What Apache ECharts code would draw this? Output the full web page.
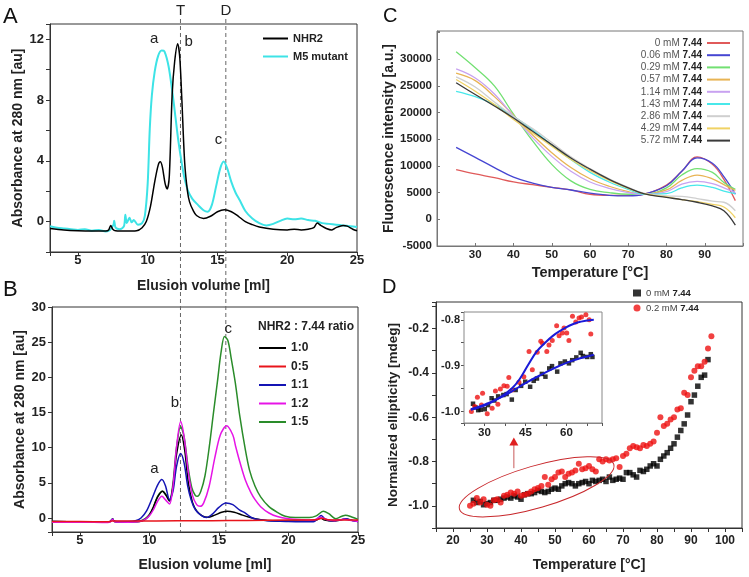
<!DOCTYPE html>
<html>
<head>
<meta charset="utf-8">
<script src="https://cdn.jsdelivr.net/npm/echarts@6/dist/echarts.min.js"></script>
<style>
  html, body { margin: 0; padding: 0; background: #fff; }
  #chart { width: 749px; height: 577px; }
</style>
</head>
<body>
<div id="chart"></div>
<script>
const FONT = '"Liberation Sans", Arial, sans-serif';

// ---- panel A : elution profiles [ml, au]
const nhr2A = [[3,-0.45],[4,-0.55],[5,-0.6],[6,-0.62],[7,-0.62],[7.2,-0.55],[7.35,-0.25],[7.5,-0.5],[7.7,-0.6],[8.5,-0.62],[9.2,-0.6],[9.6,-0.4],[9.9,0],[10.2,1.0],[10.5,2.6],[10.75,3.7],[10.9,3.93],[11.05,3.6],[11.25,2.5],[11.4,2.15],[11.55,3.0],[11.75,8.3],[11.93,10.5],[12.15,11.7],[12.3,10.8],[12.45,8.0],[12.65,3.9],[12.85,2.0],[13.0,1.3],[13.25,0.75],[13.5,0.4],[14.0,0.2],[14.5,0.35],[15.0,0.65],[15.5,0.78],[16.0,0.65],[16.5,0.35],[17.0,0.0],[17.5,-0.2],[18,-0.35],[19,-0.5],[20,-0.55],[20.5,-0.5],[21,-0.55],[21.5,-0.5],[21.9,-0.4],[22.15,-0.1],[22.4,-0.25],[22.8,-0.45],[23.2,-0.55],[23.5,-0.4],[24.0,-0.25],[24.3,-0.3],[24.7,-0.5],[25,-0.6]];
const m5A = [[3,-0.3],[3.5,-0.4],[4,-0.45],[4.5,-0.5],[5,-0.55],[5.5,-0.5],[6,-0.6],[6.5,-0.55],[7,-0.65],[7.3,-0.55],[7.55,-0.2],[7.6,0.05],[7.7,-0.4],[8.0,-0.5],[8.3,-0.3],[8.4,0.45],[8.5,-0.1],[8.7,0.25],[8.85,-0.05],[9.0,0.1],[9.3,-0.2],[9.6,-0.1],[9.8,0.4],[10.0,2.5],[10.15,6.1],[10.3,8.3],[10.5,9.85],[10.75,10.9],[11.0,11.25],[11.2,11.2],[11.5,10.2],[11.8,8.3],[12.0,6.8],[12.2,5.3],[12.45,3.8],[12.65,2.8],[12.9,2.0],[13.2,1.5],[13.6,1.1],[14.0,0.75],[14.3,0.65],[14.6,1.1],[14.9,2.3],[15.2,3.5],[15.45,3.95],[15.7,3.5],[16.0,2.6],[16.3,1.9],[16.6,1.4],[17.0,0.7],[17.5,0.2],[18,-0.1],[18.5,-0.25],[19,-0.15],[19.5,0.05],[20,0.2],[20.5,0.15],[21,0.2],[21.5,0.1],[22,0.05],[22.5,-0.1],[23,-0.15],[23.5,-0.2],[24,-0.25],[24.5,-0.3],[25,-0.35]];
const annA = [['a',10.46,12.03],['b',12.94,11.84],['c',15.08,5.36]];

// ---- panel B : NHR2 : 7.44 ratios
const ratioNames = ['1:0','0:5','1:1','1:2','1:5'];
const ratioColors = ['#000000','#e8141b','#1414b4','#e614e6','#2a8c2a'];
const b10 = [[3,-0.5],[5,-0.55],[7,-0.6],[7.2,-0.5],[7.35,-0.15],[7.5,-0.5],[8.5,-0.55],[9.3,-0.5],[9.7,-0.2],[10.0,0.4],[10.3,1.6],[10.6,3.0],[10.95,3.8],[11.2,3.2],[11.45,2.4],[11.7,4.5],[11.95,9.0],[12.3,11.8],[12.55,9.5],[12.8,5.0],[13.1,2.2],[13.4,1.0],[13.8,0.3],[14.2,0.1],[14.7,0.4],[15.2,0.8],[15.6,0.94],[16.1,0.8],[16.7,0.4],[17.2,0.1],[17.7,-0.15],[18.5,-0.35],[20,-0.45],[21.5,-0.45],[22.0,-0.3],[22.3,0.0],[22.6,-0.3],[23.2,-0.45],[23.7,-0.3],[24.1,-0.15],[24.6,-0.35],[25,-0.5]];
const b05 = [[3,-0.5],[5,-0.5],[7,-0.55],[7.3,-0.45],[9,-0.45],[12,-0.4],[14.5,-0.4],[17,-0.35],[20,-0.3],[22,-0.25],[22.4,-0.05],[22.8,-0.25],[25,-0.3]];
const b11 = [[3,-0.5],[5,-0.55],[7,-0.6],[7.2,-0.5],[7.35,-0.15],[7.5,-0.5],[8.5,-0.5],[9.0,-0.4],[9.4,0.0],[9.8,1.0],[10.2,2.8],[10.6,4.7],[10.9,5.45],[11.15,4.6],[11.45,2.6],[11.7,3.8],[11.95,7.3],[12.25,9.15],[12.5,7.8],[12.75,4.6],[13.0,2.6],[13.3,1.2],[13.7,0.4],[14.1,0.05],[14.5,0.5],[15.0,1.5],[15.5,2.13],[16.0,1.9],[16.5,1.1],[16.9,0.7],[17.3,0.1],[17.7,-0.2],[18.5,-0.4],[20,-0.5],[21.8,-0.55],[22.1,-0.1],[22.35,0.35],[22.6,-0.1],[23.0,-0.4],[23.7,-0.3],[24.1,-0.1],[24.6,-0.35],[25,-0.5]];
const b12 = [[3,-0.6],[5,-0.6],[7,-0.65],[7.2,-0.55],[7.35,-0.2],[7.5,-0.55],[8.5,-0.6],[9.3,-0.5],[9.7,-0.2],[10.0,0.3],[10.3,1.2],[10.6,2.4],[10.9,3.07],[11.15,2.6],[11.45,2.0],[11.7,4.5],[11.95,10.0],[12.25,13.7],[12.5,11.5],[12.8,6.5],[13.1,3.2],[13.4,1.9],[13.65,1.65],[13.9,2.1],[14.3,4.5],[14.7,8.5],[15.1,11.8],[15.55,13.1],[16.0,11.8],[16.2,10.2],[16.5,8.0],[16.9,5.4],[17.3,3.6],[17.6,2.6],[18.0,1.6],[18.6,0.7],[19.2,0.2],[20,-0.1],[21,-0.25],[21.8,-0.3],[22.3,0.1],[22.7,-0.2],[23.3,-0.4],[24.0,-0.2],[24.5,-0.35],[25,-0.5]];
const b15 = [[3,-0.5],[5,-0.55],[7,-0.6],[7.2,-0.5],[7.35,-0.15],[7.5,-0.5],[8.5,-0.55],[9.3,-0.45],[9.7,-0.1],[10.0,0.5],[10.3,1.6],[10.6,3.1],[10.95,3.8],[11.2,3.3],[11.45,2.5],[11.7,5.0],[11.95,10.0],[12.25,13.0],[12.5,11.5],[12.8,7.0],[13.05,4.3],[13.3,3.2],[13.45,3.07],[13.7,3.8],[14.0,6.0],[14.3,10.0],[14.6,14.8],[14.9,19.5],[15.15,23.5],[15.4,25.8],[15.65,25.2],[15.9,22.5],[16.18,19.2],[16.5,14.5],[16.9,9.7],[17.2,6.8],[17.6,4.5],[18.0,3.0],[18.58,1.65],[19.2,0.8],[19.77,0.23],[20.5,0.05],[21.5,0.05],[22.0,0.3],[22.5,0.95],[22.9,0.6],[23.4,-0.1],[23.8,0.2],[24.1,0.4],[24.6,0.1],[25,-0.2]];
const annB = [['a',10.37,6.98],['b',11.83,16.3],['c',15.68,26.9]];

// dashed reference lines (T = trimer, D = dimer)
const refNames = ['T','D'];
const refVolumes = [12.35, 15.6];

// ---- panel C : thermal shift fluorescence
const tempC = [25,30,35,40,45,50,55,60,65,70,74,80,84,88,92,95,98];
const concNames = ['0 mM','0.06 mM','0.29 mM','0.57 mM','1.14 mM','1.43 mM','2.86 mM','4.29 mM','5.72 mM'];
const concColors = ['#e05a5a','#4646d2','#72e072','#e8b454','#c8a2f0','#48e8ea','#cfcfcf','#f0d264','#3a3a3a'];
const fluor0    = [9300,8500,7800,7000,6500,6000,5500,4700,4500,4500,4700,6400,9000,11700,10300,7500,3500];
const fluor006  = [13500,11600,9700,7900,6800,6000,5500,4900,4500,4400,4700,6300,9000,11500,10500,8000,4700];
const fluor029  = [31400,28400,25000,19700,14700,10300,7200,5600,5000,4700,4700,5900,8300,9500,8800,6900,5600];
const fluor057  = [27400,26000,23000,19500,15800,12500,9700,7600,6200,5200,4700,5500,7300,8300,7600,6500,5400];
const fluor114  = [28200,26500,23500,19300,15300,11800,9000,7000,5800,5000,4700,5200,6600,7100,6700,5900,5000];
const fluor143  = [24000,23000,21500,19300,16800,13900,11200,8800,7000,5600,4700,4800,5900,6400,6000,5300,4800];
const fluor286  = [26700,24800,22000,19300,17000,14400,11700,9500,7600,6000,4900,4400,4300,3900,3400,3200,1600];
const fluor429  = [26200,24000,21500,18700,16200,13700,11200,9100,7300,5800,4800,4200,3700,3300,2800,2300,300];
const fluor572  = [25600,23400,21250,19000,16500,14000,11500,9400,7500,5900,4800,4100,3700,3200,2500,1600,-1100];
const fluorAll = [fluor0,fluor006,fluor029,fluor057,fluor114,fluor143,fluor286,fluor429,fluor572];

// ---- panel D : CD melting [°C, normalized ellipticity]
const cdNames = ['0 mM', '0.2 mM'];
const cd0 = [[26,-0.975],[27,-0.985],[28,-0.98],[29,-0.995],[30,-0.99],[31,-0.985],[32,-0.975],[33,-0.975],[34,-0.97],[35,-0.965],[36,-0.96],[37,-0.965],[38,-0.955],[39,-0.96],[40,-0.97],[41,-0.95],[42,-0.945],[43,-0.945],[44,-0.94],[45,-0.93],[46,-0.935],[47,-0.94],[48,-0.935],[49,-0.925],[50,-0.92],[51,-0.925],[52,-0.91],[53,-0.9],[54,-0.895],[55,-0.9],[56,-0.91],[57,-0.9],[58,-0.895],[59,-0.89],[60,-0.9],[61,-0.885],[62,-0.89],[63,-0.885],[64,-0.88],[65,-0.89],[66,-0.87],[67,-0.885],[68,-0.88],[69,-0.875],[70,-0.88],[71,-0.85],[72,-0.85],[73,-0.86],[74,-0.87],[75,-0.84],[76,-0.845],[77,-0.835],[78,-0.82],[79,-0.81],[80,-0.82],[81,-0.79],[82,-0.775],[83,-0.76],[84,-0.74],[85,-0.72],[86,-0.69],[87,-0.66],[88,-0.63],[89,-0.59],[90,-0.53],[91,-0.5],[92,-0.46],[93,-0.42],[94,-0.41],[95,-0.34]];
const cd02 = [[25,-1.0],[26,-0.99],[27,-0.965],[28,-0.985],[29,-0.97],[30,-0.995],[31,-1.0],[32,-0.975],[33,-0.97],[34,-0.985],[35,-0.955],[36,-0.95],[37,-0.94],[38,-0.945],[39,-0.935],[40,-0.955],[41,-0.95],[42,-0.945],[43,-0.935],[44,-0.925],[45,-0.92],[46,-0.91],[47,-0.87],[48,-0.905],[49,-0.88],[50,-0.87],[51,-0.85],[52,-0.845],[53,-0.87],[54,-0.855],[55,-0.85],[56,-0.84],[57,-0.81],[58,-0.835],[59,-0.83],[60,-0.82],[61,-0.835],[62,-0.845],[63,-0.79],[64,-0.8],[65,-0.79],[66,-0.795],[67,-0.79],[68,-0.785],[69,-0.825],[70,-0.775],[71,-0.765],[72,-0.74],[73,-0.73],[74,-0.735],[75,-0.74],[76,-0.725],[77,-0.73],[78,-0.72],[79,-0.71],[80,-0.67],[81,-0.6],[82,-0.64],[83,-0.63],[84,-0.61],[85,-0.6],[86,-0.565],[87,-0.56],[88,-0.49],[89,-0.5],[90,-0.42],[91,-0.39],[92,-0.37],[93,-0.37],[94,-0.35],[95,-0.29],[96,-0.235]];

// inset (25-70 °C zoom)
const inset0 = [[25.8,-0.983],[26.7,-0.991],[27.7,-0.997],[28.6,-0.996],[30.1,-0.995],[31.3,-0.986],[32.6,-0.971],[33.6,-0.976],[35.0,-0.967],[36.9,-0.964],[38.1,-0.962],[40.0,-0.974],[41.4,-0.953],[43.4,-0.944],[44.9,-0.935],[46.7,-0.946],[48.0,-0.933],[49.2,-0.928],[51.0,-0.918],[52.3,-0.924],[53.7,-0.906],[54.7,-0.901],[56.6,-0.913],[57.8,-0.895],[59.4,-0.891],[60.9,-0.895],[62.1,-0.888],[63.6,-0.882],[65.2,-0.872],[66.0,-0.879],[67.6,-0.881],[68.9,-0.875],[69.5,-0.881]];
const inset02 = [[25.2,-1.0],[26.4,-0.989],[27.4,-0.969],[28.9,-0.986],[29.3,-0.96],[31.0,-1.005],[32.8,-0.993],[34.0,-0.955],[34.9,-0.984],[35.8,-0.951],[37.1,-0.944],[38.3,-0.945],[38.9,-0.926],[40.1,-0.953],[42.6,-0.936],[44.4,-0.924],[46.3,-0.869],[47.5,-0.909],[49.3,-0.871],[50.6,-0.847],[51.2,-0.851],[52.8,-0.869],[53.6,-0.855],[54.8,-0.845],[56.4,-0.813],[57.3,-0.835],[58.5,-0.829],[59.1,-0.818],[60.1,-0.829],[60.9,-0.845],[62.2,-0.792],[63.4,-0.805],[64.6,-0.796],[65.5,-0.794],[67.1,-0.789],[68.3,-0.8],[68.9,-0.831]];
const fit02 = [[25,-0.996],[30,-0.987],[35,-0.972],[40,-0.95],[43,-0.928],[46,-0.898],[49,-0.87],[52,-0.851],[55,-0.835],[58,-0.823],[61,-0.813],[64,-0.806],[67,-0.802],[70,-0.8]];
const fit0 = [[25,-0.995],[30,-0.985],[35,-0.972],[40,-0.956],[45,-0.938],[50,-0.922],[55,-0.907],[60,-0.894],[65,-0.884],[70,-0.876]];

// ellipse ends and arrow (data coords of panel D)
const ellipseEnds = [[21.9,-1.015],[67.3,-0.813]];
const arrowFromTo = [[37.9,-0.83],[37.9,-0.692]];

const chart = echarts.init(document.getElementById('chart'));

function xy(xs, ys) { return xs.map((x, i) => [x, ys[i]]); }

const labelBold = (size, fmt, margin) => ({
  color: '#222', fontFamily: FONT, fontWeight: 'bold', fontSize: size, margin: margin, formatter: fmt
});
const nameStyle = size => ({ color: '#222', fontFamily: FONT, fontWeight: 'bold', fontSize: size });
const lineStyle = c => ({ show: true, onZero: false, lineStyle: { color: c, width: 1 } });

const gridBox = (l, t, w, h, col) => ({
  left: l, top: t, width: w, height: h, show: true, borderColor: col, borderWidth: 1,
  backgroundColor: '#fff', containLabel: false, outerBoundsMode: 'none'
});

const option = {
  animation: false,
  backgroundColor: '#fff',
  grid: [
    gridBox(50, 24, 307, 228, '#333'),
    gridBox(52, 307, 306, 225, '#333'),
    gridBox(437, 31, 306, 215, '#777'),
    gridBox(436, 302, 306, 226, '#333'),
    Object.assign(gridBox(464, 312, 138, 111, '#888'), { z: 3 })
  ],
  xAxis: [
    { gridIndex: 0, type: 'value', min: 3, max: 25, splitNumber: 4,
      axisLine: lineStyle('#333'), axisTick: { length: 4, lineStyle: { color: '#333' } }, splitLine: { show: false },
      axisLabel: labelBold(13, v => (v % 5 === 0 ? String(v) : ''), 2),
      name: 'Elusion volume [ml]', nameLocation: 'middle', nameGap: 27, nameTextStyle: nameStyle(14) },
    { gridIndex: 1, type: 'value', min: 3, max: 25, splitNumber: 4,
      axisLine: lineStyle('#333'), axisTick: { length: 4, lineStyle: { color: '#333' } }, splitLine: { show: false },
      axisLabel: labelBold(13, v => (v % 5 === 0 ? String(v) : ''), 2),
      name: 'Elusion volume [ml]', nameLocation: 'middle', nameGap: 26, nameTextStyle: nameStyle(14) },
    { gridIndex: 2, type: 'value', min: 20, max: 100, interval: 10,
      axisLine: lineStyle('#777'), axisTick: { inside: true, length: 3, lineStyle: { color: '#777' } }, splitLine: { show: false },
      axisLabel: labelBold(11.5, v => (v >= 30 && v <= 90 ? String(v) : ''), 3),
      name: 'Temperature [\u00B0C]', nameLocation: 'middle', nameGap: 19, nameTextStyle: nameStyle(14.5) },
    { gridIndex: 3, type: 'value', min: 15, max: 105, interval: 5,
      axisLine: lineStyle('#333'), axisTick: { length: 4, lineStyle: { color: '#333' } }, splitLine: { show: false },
      axisLabel: labelBold(12, v => (v % 10 === 0 && v >= 20 && v <= 100 ? String(v) : ''), 7),
      name: 'Temperature [\u00B0C]', nameLocation: 'middle', nameGap: 30, nameTextStyle: nameStyle(14) },
    { gridIndex: 4, type: 'value', min: 22.5, max: 73, interval: 7.5,
      axisLine: lineStyle('#888'), axisTick: { length: 3, lineStyle: { color: '#555' } }, splitLine: { show: false },
      axisLabel: labelBold(11.5, v => ([30, 45, 60].indexOf(v) >= 0 ? String(v) : ''), 4) }
  ],
  yAxis: [
    { gridIndex: 0, type: 'value', min: -2, max: 13, interval: 2,
      axisLine: lineStyle('#333'), axisTick: { length: 4, lineStyle: { color: '#333' } }, splitLine: { show: false },
      axisLabel: labelBold(13, v => (v >= 0 && v % 4 === 0 ? String(v) : ''), 6),
      name: 'Absorbance at 280 nm [au]', nameLocation: 'middle', nameGap: 21, nameTextStyle: nameStyle(14) },
    { gridIndex: 1, type: 'value', min: -2, max: 30, splitNumber: 6,
      axisLine: lineStyle('#333'), axisTick: { length: 4, lineStyle: { color: '#333' } }, splitLine: { show: false },
      axisLabel: labelBold(13, v => (v >= 0 && v % 5 === 0 ? String(v) : ''), 6),
      name: 'Absorbance at 280 nm [au]', nameLocation: 'middle', nameGap: 25, nameTextStyle: nameStyle(14) },
    { gridIndex: 2, type: 'value', min: -5000, max: 35300, interval: 5000,
      axisLine: lineStyle('#777'), axisTick: { inside: true, length: 3, lineStyle: { color: '#777' } }, splitLine: { show: false },
      axisLabel: labelBold(11.5, v => (v <= 30000 ? String(v) : ''), 5),
      name: 'Fluorescence intensity [a.u.]', nameLocation: 'middle', nameGap: 39, nameTextStyle: nameStyle(14) },
    { gridIndex: 3, type: 'value', min: -1.1, max: -0.08, interval: 0.1,
      axisLine: lineStyle('#333'), axisTick: { length: 4, lineStyle: { color: '#333' } }, splitLine: { show: false },
      axisLabel: labelBold(12, v => { const r = Math.round(v * 10); return (r % 2 === 0 && r >= -10 && r <= -2) ? (r / 10).toFixed(1) : ''; }, 7),
      name: 'Normalized ellipticity [mdeg]', nameLocation: 'middle', nameGap: 36, nameTextStyle: nameStyle(13.5) },
    { gridIndex: 4, type: 'value', min: -1.025, max: -0.783, splitNumber: 5,
      axisLine: lineStyle('#888'), axisTick: { length: 3, lineStyle: { color: '#555' } }, splitLine: { show: false },
      axisLabel: labelBold(11, v => { const r = Math.round(v * 100); return (Math.abs(v * 100 - r) < 0.01 && r % 10 === 0) ? (r / 100).toFixed(1) : ''; }, 4) }
  ],
  legend: [
    { data: ['NHR2', 'M5 mutant'], orient: 'vertical', left: 258, top: 28, icon: 'rect', itemWidth: 25, itemHeight: 2, itemGap: 7,
      selectedMode: false, textStyle: { fontFamily: FONT, fontWeight: 'bold', fontSize: 11, color: '#222' } },
    { data: ratioNames, orient: 'vertical', left: 254, top: 337, icon: 'rect', itemWidth: 27, itemHeight: 2, itemGap: 6.5,
      selectedMode: false, textStyle: { fontFamily: FONT, fontWeight: 'bold', fontSize: 12, color: '#222' } },
    { data: concNames, orient: 'vertical', right: 14, top: 33, align: 'right', icon: 'rect', itemWidth: 23, itemHeight: 2, itemGap: 2.2,
      selectedMode: false, formatter: n => '{n|' + n + ' }{b|7.44}',
      textStyle: { fontFamily: FONT, fontSize: 10, color: '#555',
        rich: { n: { fontFamily: FONT, fontSize: 10, color: '#555' }, b: { fontFamily: FONT, fontSize: 10, fontWeight: 'bold', color: '#222' } } } },
    { data: cdNames.map(n => n + ' CD'), orient: 'vertical', left: 628, top: 283, itemWidth: 8, itemHeight: 7, itemGap: 5,
      selectedMode: false, formatter: n => '{n|' + n.replace(' CD', '') + ' }{b|7.44}',
      textStyle: { fontFamily: FONT, fontSize: 9.5, color: '#444',
        rich: { n: { fontFamily: FONT, fontSize: 9.5, color: '#444' }, b: { fontFamily: FONT, fontSize: 9.5, fontWeight: 'bold', color: '#222' } } } }
  ],
  series: [
    { name: 'M5 mutant', type: 'line', xAxisIndex: 0, yAxisIndex: 0, data: m5A, symbol: 'none', smooth: 0.3,
      lineStyle: { color: '#3de3e6', width: 2 }, itemStyle: { color: '#3de3e6' } },
    { name: 'NHR2', type: 'line', xAxisIndex: 0, yAxisIndex: 0, data: nhr2A, symbol: 'none', smooth: 0.3,
      lineStyle: { color: '#000', width: 1.5 }, itemStyle: { color: '#000' } }
  ]
};

[b15, b10, b11, b12, b05].forEach((d, k) => {
  const i = [4, 0, 2, 3, 1][k];
  option.series.push({ name: ratioNames[i], type: 'line', xAxisIndex: 1, yAxisIndex: 1, data: d, symbol: 'none', smooth: 0.3,
    lineStyle: { color: ratioColors[i], width: 1.5 }, itemStyle: { color: ratioColors[i] } });
});

fluorAll.forEach((vals, i) => {
  option.series.push({ name: concNames[i], type: 'line', xAxisIndex: 2, yAxisIndex: 2, data: xy(tempC, vals), symbol: 'none', smooth: 0.4,
    lineStyle: { color: concColors[i], width: 1.3 }, itemStyle: { color: concColors[i] } });
});

option.series.push(
  { name: cdNames[0] + ' CD', type: 'scatter', xAxisIndex: 3, yAxisIndex: 3, data: cd0, symbol: 'rect', symbolSize: 5.5, itemStyle: { color: '#000' } },
  { name: cdNames[1] + ' CD', type: 'scatter', xAxisIndex: 3, yAxisIndex: 3, data: cd02, symbol: 'circle', symbolSize: 6, itemStyle: { color: '#ee1111' } },
  { name: 'inset0', type: 'scatter', xAxisIndex: 4, yAxisIndex: 4, data: inset0, symbol: 'rect', symbolSize: 4.5, itemStyle: { color: '#000' }, z: 4 },
  { name: 'inset02', type: 'scatter', xAxisIndex: 4, yAxisIndex: 4, data: inset02, symbol: 'circle', symbolSize: 5, itemStyle: { color: '#ee1111' }, z: 4 },
  { name: 'fit0', type: 'line', xAxisIndex: 4, yAxisIndex: 4, data: fit0, symbol: 'none', smooth: 0.4, lineStyle: { color: '#1a1ad8', width: 2 }, z: 5 },
  { name: 'fit02', type: 'line', xAxisIndex: 4, yAxisIndex: 4, data: fit02, symbol: 'none', smooth: 0.4, lineStyle: { color: '#1a1ad8', width: 2 }, z: 5 }
);

chart.setOption(option);

// annotations placed through the axes
const toPx = (g, p) => chart.convertToPixel({ gridIndex: g }, p);
const txt = (x, y, text, size, opts) => Object.assign({
  type: 'text', x: x, y: y, z: 20,
  style: { text: text, fontFamily: FONT, fontSize: size, fill: '#222', textAlign: 'center', textVerticalAlign: 'middle' }
}, opts || {});

const g = [];
[['A', 3, 6, 22], ['B', 3, 279, 22], ['C', 383, 6, 20], ['D', 382, 277, 20]].forEach(p => {
  g.push(txt(p[1], p[2], p[0], p[3], { style: { text: p[0], fontFamily: FONT, fontSize: p[3], fill: '#111', textAlign: 'left', textVerticalAlign: 'top' } }));
});

const bottomB = toPx(1, [3, -2])[1];
refVolumes.forEach((v, i) => {
  const x = toPx(0, [v, 0])[0];
  g.push(txt(x, 11, refNames[i], 15));
  g.push({ type: 'line', z: 1, shape: { x1: x, y1: 19, x2: x, y2: bottomB },
    style: { stroke: '#666', lineWidth: 1, lineDash: [4, 3] } });
});
annA.forEach(a => { const p = toPx(0, [a[1], a[2]]); g.push(txt(p[0], p[1], a[0], 15)); });
annB.forEach(a => { const p = toPx(1, [a[1], a[2]]); g.push(txt(p[0], p[1], a[0], 15)); });
g.push(txt(258, 327, 'NHR2 : 7.44 ratio', 12, { style: { text: 'NHR2 : 7.44 ratio', fontFamily: FONT, fontSize: 12, fontWeight: 'bold', fill: '#222', textAlign: 'left', textVerticalAlign: 'middle' } }));

const e1 = toPx(3, ellipseEnds[0]), e2 = toPx(3, ellipseEnds[1]);
const ecx = (e1[0] + e2[0]) / 2, ecy = (e1[1] + e2[1]) / 2;
const erx = Math.hypot(e2[0] - e1[0], e2[1] - e1[1]) / 2;
g.push({ type: 'ellipse', x: ecx, y: ecy, rotation: Math.atan2(e1[1] - e2[1], e2[0] - e1[0]), z: 6,
  shape: { cx: 0, cy: 0, rx: erx, ry: 21 }, style: { fill: 'none', stroke: '#c8282c', lineWidth: 1 } });

const a1 = toPx(3, arrowFromTo[0]), a2 = toPx(3, arrowFromTo[1]);
g.push({ type: 'line', z: 6, shape: { x1: a1[0], y1: a1[1], x2: a2[0], y2: a2[1] + 6 }, style: { stroke: '#c85a5a', lineWidth: 1 } });
g.push({ type: 'polygon', z: 6, shape: { points: [[a2[0], a2[1]], [a2[0] - 4.5, a2[1] + 8], [a2[0] + 4.5, a2[1] + 8]] }, style: { fill: '#e02020' } });

chart.setOption({ graphic: g });
</script>
</body>
</html>
